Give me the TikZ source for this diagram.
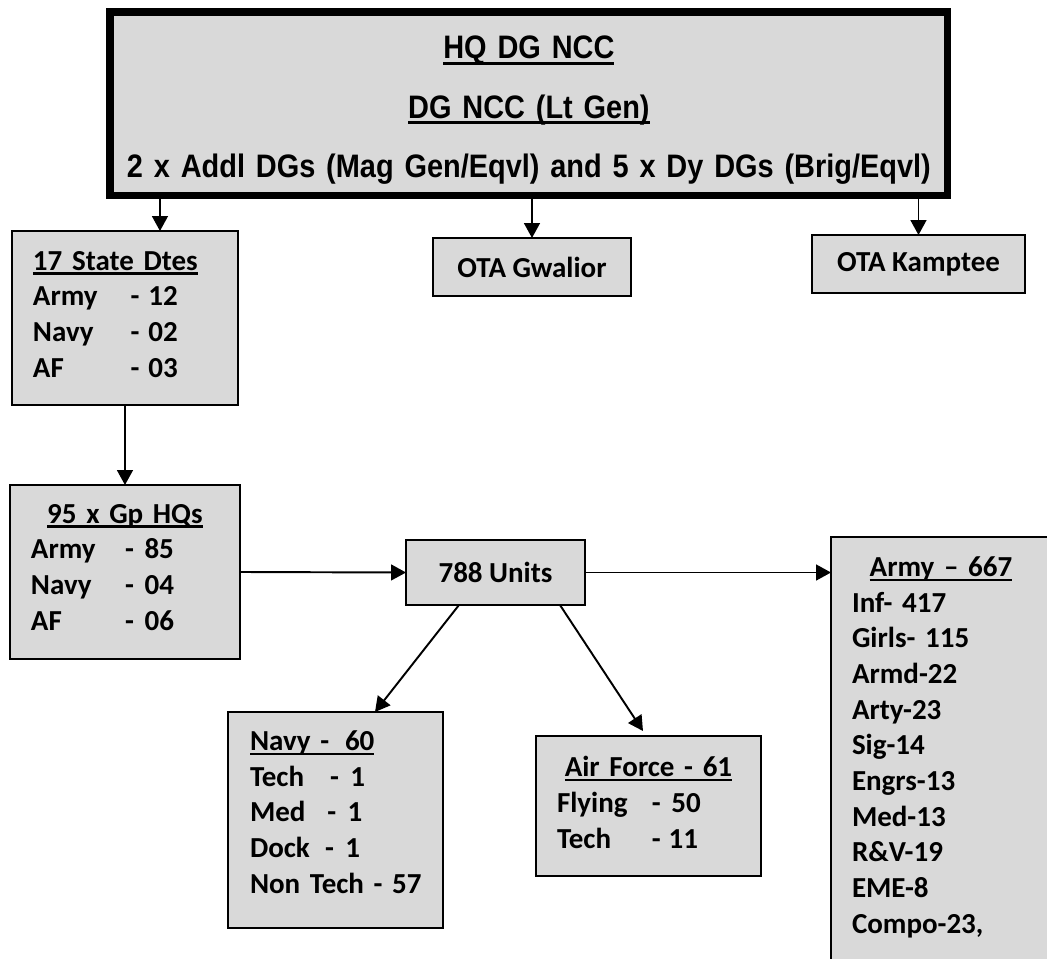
\documentclass[tikz,border=0pt]{standalone}
\usepackage{fontspec}
\setmainfont{Carlito}
\newfontfamily\hqfont[FakeStretch=0.89]{Liberation Sans}
\usepackage{tikz}
\usetikzlibrary{arrows.meta}
\definecolor{boxgray}{HTML}{D9D9D9}
\newlength{\uldrop}\setlength{\uldrop}{2.6pt}
\newlength{\ulthick}\setlength{\ulthick}{1.4pt}
\tikzstyle{line} = [draw, -{Triangle[length=8.5pt,width=9pt]}, line width=1.1pt]
\tikzstyle{unit} = [draw, line width=1.1pt, fill=boxgray, anchor=north west, outer sep=0pt, inner ysep=0pt, align=left, font=\bfseries\fontsize{16.5}{20.3}\selectfont]
\newcommand{\hd}[1]{\leavevmode\setbox0\hbox{#1}\rlap{\rule[-\uldrop]{\wd0}{\ulthick}}\box0}
\newcommand{\headc}[1]{\makebox[\linewidth][c]{\hd{#1}}}
\newcommand{\lbl}[2]{\makebox[#1][l]{#2}}

\begin{document}
\begin{tikzpicture}[x=0.02cm, y=-0.02cm]
	\useasboundingbox (0,0) rectangle (1047,958);
	\clip (0,0) rectangle (1047,958);
	% -------------- HQ --------------
	\node[draw, line width=4pt, fill=boxgray, anchor=north west, outer sep=0pt, inner sep=0pt,
		minimum width=16.76cm, minimum height=3.68cm, text width=16.7cm, align=center, text depth=2.26cm,
		font=\hqfont\bfseries\fontsize{18.5}{33.7}\selectfont] (hq) at (110,12)
		{\setlength{\uldrop}{3.6pt}\setlength{\ulthick}{2pt}\hd{HQ DG NCC}\\ \hd{DG NCC (Lt Gen)}\\ \mbox{2 x Addl DGs (Mag Gen/Eqvl) and 5 x Dy DGs (Brig/Eqvl)}};
	% -------------- Dtes and OTAs --------------
	\node[unit, minimum width=4.52cm, minimum height=3.48cm, text width=3.68cm, inner xsep=0.42cm, text depth=2.3cm] (state) at (12,231)
		{\hd{17 State Dtes}\\ \lbl{55.6pt}{Army}-\hspace{5pt}12\\ \lbl{55.6pt}{Navy}-\hspace{5pt}02\\ \lbl{55.6pt}{AF}-\hspace{5pt}03};
	\node[unit, align=center, inner xsep=0pt, minimum width=3.96cm, minimum height=1.16cm] (gwalior) at (433,238) {OTA Gwalior};
	\node[unit, align=center, inner xsep=0pt, minimum width=4.26cm, minimum height=1.16cm] (kamptee) at (812,235) {OTA Kamptee};
	% -------------- Gp HQs and Units --------------
	\node[unit, minimum width=4.6cm, minimum height=3.48cm, text width=3.76cm, inner xsep=0.42cm, text depth=2.34cm] (gphq) at (10,485)
		{\headc{95 x Gp HQs}\\ \lbl{53.6pt}{Army}-\hspace{6pt}85\\ \lbl{53.6pt}{Navy}-\hspace{6pt}04\\ \lbl{53.6pt}{AF}-\hspace{6pt}06};
	\node[unit, align=center, inner xsep=0pt, minimum width=3.58cm, minimum height=1.3cm] (units) at (406,540) {788 Units};
	% -------------- Navy, Air Force, Army --------------
	\node[unit, minimum width=4.3cm, minimum height=4.32cm, text width=3.42cm, inner xsep=0.44cm, text depth=3.18cm] (navy) at (228,712)
		{\hd{Navy -\hspace{9pt}60}\\ \lbl{45.6pt}{Tech}-\hspace{6.5pt}1\\ \lbl{44pt}{Med}-\hspace{6.5pt}1\\ \lbl{42.8pt}{Dock}-\hspace{6.5pt}1\\ \mbox{Non Tech - 57}};
	\node[unit, minimum width=4.5cm, minimum height=2.8cm, text width=3.66cm, inner xsep=0.42cm, text depth=1.58cm] (airforce) at (536,736)
		{\headc{Air Force - 61}\\ \lbl{54pt}{Flying}-\hspace{6pt}50\\ \lbl{54pt}{Tech}-\hspace{4.5pt}11};
	\node[unit, minimum width=4.4cm, minimum height=8.8cm, text width=3.56cm, inner xsep=0.42cm, text depth=7.62cm] (army) at (831,537)
		{\headc{Army – 667}\\ Inf- 417\\ Girls- 115\\ Armd-22\\ Arty-23\\ Sig-14\\ Engrs-13\\ Med-13\\ R\&V-19\\ EME-8\\ Compo-23,};
	% -------------- Arrows --------------
	\path ([xshift=0.7cm]state.north) coordinate (s1);
	\draw[line] (hq.south -| s1) -- (s1);
	\draw[line] (hq.south -| gwalior.north) -- (gwalior.north);
	\draw[line] (hq.south -| kamptee.north) -- (kamptee.north);
	\draw[line] (state.south) -- (gphq.north);
	\draw[line] (gphq.east) -- (units.west);
	\draw[line] (units.east) -- (units.east -| army.west);
	\draw[line] ([xshift=-0.73cm]units.south) -- ([xshift=0.79cm]navy.north);
	\draw[line] ([xshift=1.29cm]units.south) -- ([xshift=-0.11cm,yshift=0.1cm]airforce.north);
\end{tikzpicture}
\end{document}
